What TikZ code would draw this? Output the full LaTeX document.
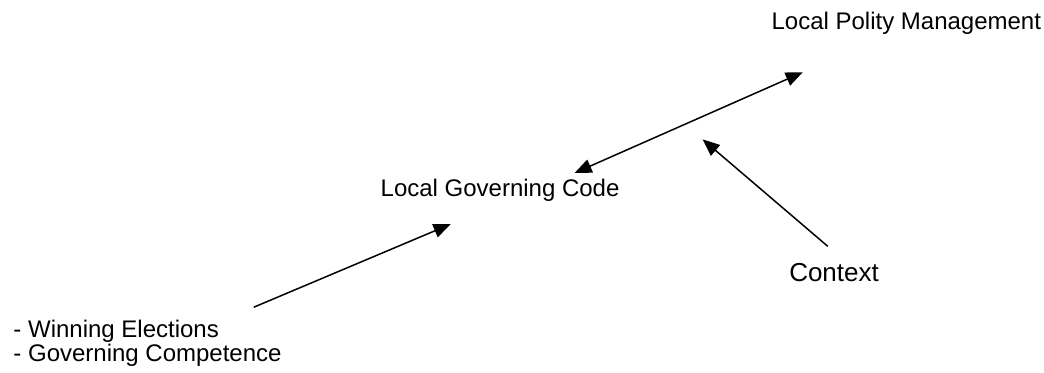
\documentclass[tikz,border=0pt]{standalone}
\usepackage{fontspec}
\setmainfont{Liberation Sans}
\usetikzlibrary{arrows.meta}
\tikzset{
  label text/.style={inner sep=0pt, font=\fontsize{12}{12}\selectfont},
  link/.style={line width=0.75pt, -{Triangle[length=8.5pt,width=7pt]}},
}
\begin{document}
\begin{tikzpicture}
\useasboundingbox (0,0) rectangle (18.35,6.54);

% draw the text nodes
\node[label text, anchor=base] (polity) at (15.93,6.03) {Local Polity Management};
\node[label text, anchor=base] (govcode) at (8.79,3.09) {Local Governing Code};
\node[label text, anchor=base, font=\fontsize{13}{13}\selectfont] (context) at (14.66,1.60) {Context};
\node[label text, anchor=base west, align=left] (goals) at (0.23,0.19) {
  - Winning Elections\\
  - Governing Competence
};

% free ends of the arrows
\coordinate (code end) at (10.10,3.50);
\coordinate (polity end) at (14.11,5.27);
\coordinate (context tail) at (14.55,2.21);
\coordinate (context tip) at (12.35,4.09);
\coordinate (goals tail) at (4.46,1.14);
\coordinate (goals tip) at (7.92,2.60);

% draw the arrows
\draw[link, {Triangle[length=8.5pt,width=7pt]}-{Triangle[length=8.5pt,width=7pt]}] (code end) -- (polity end);
\draw[link] (context tail) -- (context tip);
\draw[link] (goals tail) -- (goals tip);
\end{tikzpicture}
\end{document}
